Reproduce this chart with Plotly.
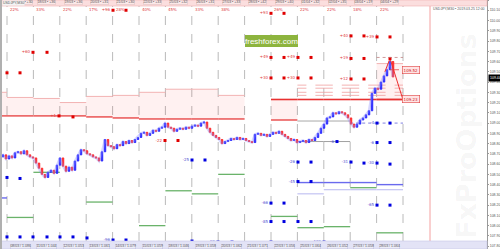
import plotly.graph_objects as go

# ---------------- data ----------------
closes = [108.67, 108.69, 108.65, 108.68, 108.66, 108.71, 108.72, 108.70, 108.73, 108.69,
          108.67, 108.66, 108.61, 108.56, 108.50, 108.47, 108.52, 108.54, 108.51, 108.59,
          108.66, 108.58, 108.53, 108.57, 108.54, 108.63, 108.69, 108.74, 108.73, 108.70,
          108.69, 108.67, 108.66, 108.63, 108.72, 108.84, 108.78, 108.77, 108.75, 108.79,
          108.78, 108.82, 108.80, 108.83, 108.81, 108.84, 108.86, 108.90, 108.91, 108.88,
          108.90, 108.93, 108.92, 108.95, 108.96, 109.00, 108.96, 108.95, 108.92, 108.94,
          108.95, 108.94, 108.96, 108.95, 108.97, 108.98, 108.97, 109.00, 109.01, 108.95,
          108.91, 108.88, 108.86, 108.84, 108.80, 108.82, 108.83, 108.85, 108.84, 108.86,
          108.84, 108.85, 108.83, 108.82, 108.81, 108.89, 108.90, 108.88, 108.89, 108.87,
          108.89, 108.91, 108.90, 108.92, 108.89, 108.87, 108.85, 108.83, 108.84, 108.81,
          108.82, 108.83, 108.81, 108.84, 108.83, 108.86, 108.90, 108.95, 108.99, 109.05,
          109.06, 109.10, 109.09, 109.11, 109.10, 109.08, 109.05, 108.99, 108.96, 108.99,
          109.03, 109.05, 109.08, 109.12, 109.29, 109.34, 109.33, 109.40, 109.46, 109.52,
          109.60, 109.45]
first_open = 108.68
opens = [first_open] + closes[:-1]
highs = [max(o, c) for o, c in zip(opens, closes)]
lows = [min(o, c) for o, c in zip(opens, closes)]
bars = list(range(len(closes)))

# per-period levels (period -1 .. 14)
zone_top = [109.30, 109.25, 109.24, 109.20, 109.26, 109.27, 109.30, 109.33, 109.33, 109.27,
            None, 109.23, None, None, None, 109.58]
zone_bot = [109.07, 109.07, 109.07, 109.07, 109.06, 109.05, 109.04, 109.04, 109.04, 109.04,
            None, 109.03, None, None, None, 109.23]
pivot = [None] * 11 + [109.23, 109.23, 109.23, 109.23, 109.23]
dash_levels = [109.37, 109.34, 109.30, 109.27]
dash_periods = [12, 13, 14, 15]
gray1 = [None] * 12 + [109.02, 109.02, None, None]
gray2 = [None] * 12 + [108.82, 108.82, None, None]
dotblue = [None] * 14 + [109.00, 109.00]
green = [None, 108.08, 108.52, None, 108.23, 107.82, 108.00, 108.34, 108.31, 108.50,
         None, 108.09, 107.98, 107.99, 108.37, 107.93]
blue_main = [108.27] + [None] * 11 + [108.42, 108.42, 108.42, 108.40]
blue_light = [None] * 12 + [108.31, 108.35, 108.35, 108.35]

red_t = [2.33, 6.67, 11, 15.67, 37.67, 42, 90.33, 94.67, 90.33, 94.67, 99.33, 103.67,
         90.33, 94.67, 99.33, 103.67, 117, 121.33, 125.67, 130, 117, 121.33, 130, 117,
         121.33, 19.67, 24.33, 55, 59.33]
red_p = [109.49, 109.49, 109.69, 109.69, 110.10, 110.10, 110.07, 110.07, 109.64, 109.64,
         109.64, 109.64, 109.44, 109.44, 109.44, 109.44, 109.85, 109.85, 109.84, 109.84,
         109.63, 109.63, 109.63, 109.43, 109.43, 109.07, 109.06, 108.83, 108.83]
red_lbl = ["", "", "+60", "", "+96", "", "+93", "", "+49", "", "+49", "", "+30", "", "+30", "",
           "+40", "", "+39", "", "+19", "", "", "+12", "", "+1", "", "-22", ""]
blue_t = [2.33, 6.67, 2.33, 6.67, 11, 15.67, 20, 24.33, 29, 37.67, 42, 64, 68.33, 64, 72.67,
          77.33, 90.33, 94.67, 90.33, 94.67, 99.33, 103.67, 99.33, 103.67, 99.33, 103.67,
          90.33, 108, 112.33, 125.67, 130, 117, 121.33, 125.67, 130, 125.67, 130, 125.67, 130]
blue_p = [108.47, 108.46, 107.89, 107.89, 107.89, 107.89, 107.89, 107.89, 107.88, 107.86,
          107.86, 108.64, 108.64, 107.85, 107.84, 107.84, 108.22, 108.22, 108.04, 108.04,
          108.04, 108.04, 108.43, 108.43, 108.62, 108.62, 107.84, 107.84, 108.82, 108.81,
          108.81, 108.62, 108.61, 108.61, 108.60, 109.00, 109.00, 108.20, 108.20]
blue_lbl = ["", "", "", "", "", "", "", "", "", "-96", "", "-25", "", "", "-99", "",
            "-66", "", "-85", "", "", "", "-45", "", "-26", "", "", "-109", "-6", "-6", "",
            "-31", "", "-30", "", "-4", "", "-65", ""]

proj_t = [128.3, 130.0, 134.3]
proj_p = [109.50, 109.63, 109.23]

top_labels = ["• +30", "18/03 • +36", "19/03 • +36", "20/03 • +31", "21/03 • +30",
              "22/03 • +33", "25/03 • +32", "26/03 • +31", "27/03 • +33", "28/03 • +42",
              "29/03 • +40", "01/04 • +32", "02/04 • +35", "03/04 • +19", "04/04 • +29"]
pct_labels = ["22%", "33%", "22%", "17%", "28%", "40%", "45%", "33%", "38%", "", "26%",
              "22%", "22%", "18%", "22%"]
bottom_labels = ["08/03 / 1.086", "11/03 / 1.044", "12/03 / 1.053", "13/03 / 1.061",
                 "14/03 / 1.079", "15/03 / 1.059", "18/03 / 1.046", "19/03 / 1.058",
                 "20/03 / 1.062", "21/03 / 1.071", "22/03 / 1.056", "25/03 / 1.064",
                 "26/03 / 1.052", "27/03 / 1.058", "28/03 / 1.064"]
last_price = 109.44
proj_hi, proj_lo = 109.52, 109.23

# ---------------- geometry helpers ----------------
BAR_PX = 3.0
PLOT_W = 487
P0 = 7 / BAR_PX
PW = 26.4 / BAR_PX
Y_TOP = 110.20
Y_BOT = 110.20 - 249 * 0.00975


def pstart(idx):  # idx 0 -> period -1
    return P0 + PW * (idx - 1)


fig = go.Figure()
shapes = []
ann = []

# zones
for i, (t, b) in enumerate(zip(zone_top, zone_bot)):
    if t is None:
        continue
    x0, x1 = pstart(i), pstart(i) + PW
    shapes.append(dict(type="rect", x0=x0, x1=x1, y0=b, y1=t, fillcolor="rgba(255,60,60,0.07)",
                       line=dict(width=0), layer="below"))
    shapes.append(dict(type="line", x0=x0, x1=x1, y0=t, y1=t, line=dict(color="#f3b3b3", width=1), layer="below"))
    shapes.append(dict(type="line", x0=x0, x1=x1, y0=b, y1=b, line=dict(color="#e84848", width=1.4), layer="below"))


def add_levels(arr, color, width=1, dash="solid"):
    for i, v in enumerate(arr):
        if v is None:
            continue
        x0 = pstart(i)
        shapes.append(dict(type="line", x0=x0, x1=x0 + PW, y0=v, y1=v,
                           line=dict(color=color, width=width, dash=dash), layer="below"))


add_levels(pivot, "#e83030", 1.6)
for lv in dash_levels:
    for i in dash_periods:
        x0 = pstart(i)
        shapes.append(dict(type="line", x0=x0, x1=x0 + PW, y0=lv, y1=lv,
                           line=dict(color="#f0a0a0", width=0.8, dash="dash"), layer="below"))
add_levels(gray1, "#a8a8a8", 1)
add_levels(gray2, "#a0a0a0", 1)
add_levels(dotblue, "#8080e0", 1, "dot")
add_levels(green, "#6ab36a", 1.3)
add_levels(blue_main, "#6a6aee", 1.4)
add_levels(blue_light, "#b8b8f0", 1)

# vertical dashed period separators
for i in range(1, 17):
    x = pstart(i)
    shapes.append(dict(type="line", xref="x", yref="paper", x0=x, x1=x, y0=8 / 249, y1=1 - 6 / 249,
                       line=dict(color="#a8a8a8", width=0.8, dash="dash"), layer="below"))

# red vertical line
shapes.append(dict(type="line", xref="x", yref="paper", x0=430 / BAR_PX, x1=430 / BAR_PX, y0=0, y1=1,
                   line=dict(color="#f4a0a0", width=1)))
# top and bottom bands
shapes.append(dict(type="rect", xref="paper", yref="paper", x0=0, x1=1, y0=1 - 6 / 249, y1=1,
                   fillcolor="#fbdede", line=dict(color="#f0b0b0", width=0.6)))
shapes.append(dict(type="rect", xref="paper", yref="paper", x0=0, x1=1, y0=0, y1=8 / 249,
                   fillcolor="#e3e3f6", line=dict(color="#c8c8e8", width=0.6)))
# left edge bar
shapes.append(dict(type="rect", xref="paper", yref="paper", x0=0, x1=2 / PLOT_W, y0=0, y1=1,
                   fillcolor="#b0b0b0", line=dict(width=0)))
# freshforex logo box
shapes.append(dict(type="rect", xref="paper", yref="paper", x0=245 / PLOT_W, x1=298 / PLOT_W,
                   y0=1 - 47 / 249, y1=1 - 35 / 249, fillcolor="#8db43e", line=dict(width=0)))
# projection dashed to label
shapes.append(dict(type="line", x0=proj_t[1], x1=135, y0=proj_hi, y1=proj_hi,
                   line=dict(color="#e84040", width=0.8, dash="dash")))
shapes.append(dict(type="line", x0=pstart(15), x1=pstart(15) + PW, y0=109.64, y1=109.64,
                   line=dict(color="#c08080", width=0.8, dash="dot")))

# watermark
ann.append(dict(xref="paper", yref="paper", x=466 / PLOT_W, y=1 - 136 / 249, text="<b>FxProOptions</b>",
                textangle=-90, showarrow=False, font=dict(size=27, color="rgba(0,0,0,0.05)", family="DejaVu Sans"),
                xanchor="center", yanchor="middle"))
ann.append(dict(xref="paper", yref="paper", x=271.5 / PLOT_W, y=1 - 41 / 249, text="freshforex.com",
                showarrow=False, font=dict(size=8, color="white", family="Liberation Sans"),
                xanchor="center", yanchor="middle"))

tiny = dict(size=3.5, color="#555", family="Liberation Sans")
for k in range(15):
    c = pstart(k + 1) + PW / 2
    if k == 0:
        ann.append(dict(x=pstart(k + 2) - 0.3, xref="x", yref="paper", y=1, text=top_labels[k], showarrow=False,
                        font=tiny, xanchor="right", yanchor="top", bgcolor="#fbe8e8",
                        bordercolor="#d8b0b0", borderwidth=0.4, borderpad=0))
    else:
        ann.append(dict(x=c, xref="x", yref="paper", y=1, text=top_labels[k], showarrow=False,
                        font=tiny, xanchor="center", yanchor="top", bgcolor="#fbe8e8",
                        bordercolor="#d8b0b0", borderwidth=0.4, borderpad=0))
    if pct_labels[k]:
        ann.append(dict(x=pstart(k + 1) + 0.3, xref="x", yref="paper", y=1 - 9 / 249, text=pct_labels[k],
                        showarrow=False, font=dict(size=4, color="#e04040"), xanchor="left", yanchor="middle"))
    ann.append(dict(x=c, xref="x", yref="paper", y=0, text=bottom_labels[k], showarrow=False,
                    font=tiny, xanchor="center", yanchor="bottom", bgcolor="#ececf8",
                    bordercolor="#b8b8d8", borderwidth=0.4, borderpad=0))
ann.append(dict(xref="paper", yref="paper", x=2 / PLOT_W, y=1, text="USDJPY,M30", showarrow=False,
                font=tiny, xanchor="left", yanchor="top", bgcolor="#f4f4f4", borderpad=0))
ann.append(dict(xref="paper", yref="paper", x=1, y=1 - 9 / 249, text="USDJPY,M30 • 2019.03.25 12:00",
                showarrow=False, font=tiny, xanchor="right", yanchor="middle"))

ann.append(dict(x=137, y=proj_hi, xref="x", yref="y", text="%.2f" % proj_hi, showarrow=False,
                font=dict(size=4, color="#d02020"), bgcolor="#ffe4e4", bordercolor="#e04040",
                borderwidth=0.6, xanchor="center"))
ann.append(dict(x=137, y=proj_lo, xref="x", yref="y", text="%.2f" % proj_lo, showarrow=False,
                font=dict(size=4, color="#d02020"), bgcolor="#ffe4e4", bordercolor="#e04040",
                borderwidth=0.6, xanchor="center"))
ann.append(dict(xref="paper", x=1, y=last_price, yref="y", text="%.2f" % last_price, showarrow=False,
                font=dict(size=3.5, color="white", family="Liberation Sans"), bgcolor="black",
                xanchor="left", xshift=1))

# price shadow line + candles
fig.add_trace(go.Scatter(x=bars, y=closes, mode="lines", line=dict(color="rgba(140,140,255,0.35)", width=2.5),
                         showlegend=False, hoverinfo="skip"))
fig.add_trace(go.Candlestick(x=bars, open=opens, high=highs, low=lows, close=closes,
                             increasing=dict(line=dict(color="#2a2aff", width=1), fillcolor="#2a2aff"),
                             decreasing=dict(line=dict(color="#ff2a2a", width=1), fillcolor="#ff2a2a"),
                             whiskerwidth=0, showlegend=False, hoverinfo="skip"))
# projection
fig.add_trace(go.Scatter(x=proj_t, y=proj_p, mode="lines", line=dict(color="#ee3030", width=1),
                         showlegend=False, hoverinfo="skip"))
# markers
fig.add_trace(go.Scatter(x=red_t, y=red_p, mode="markers+text", text=red_lbl, textposition="middle left",
                         textfont=dict(size=4, color="#e04040"),
                         marker=dict(symbol="square", size=3, color="#e00000"), showlegend=False, hoverinfo="skip"))
fig.add_trace(go.Scatter(x=blue_t, y=blue_p, mode="markers+text", text=blue_lbl, textposition="middle left",
                         textfont=dict(size=4, color="#5050d0"),
                         marker=dict(symbol="square", size=3, color="#0000e0"), showlegend=False, hoverinfo="skip"))

fig.update_layout(
    width=500, height=249, margin=dict(l=0, r=13, t=0, b=0),
    paper_bgcolor="white", plot_bgcolor="white",
    shapes=shapes, annotations=ann,
    xaxis=dict(range=[0, PLOT_W / BAR_PX], visible=False, rangeslider=dict(visible=False), fixedrange=True),
    yaxis=dict(range=[Y_BOT, Y_TOP], side="right", dtick=0.1, tick0=110.10, tickformat=".2f",
               tickfont=dict(size=3.5, color="#555", family="Liberation Sans"), showgrid=False, zeroline=False,
               showline=True, linecolor="#999", linewidth=1, ticks="outside", ticklen=1, tickcolor="#999",
               automargin=False),
    font=dict(family="DejaVu Sans"),
)
fig.write_html("out.html")
